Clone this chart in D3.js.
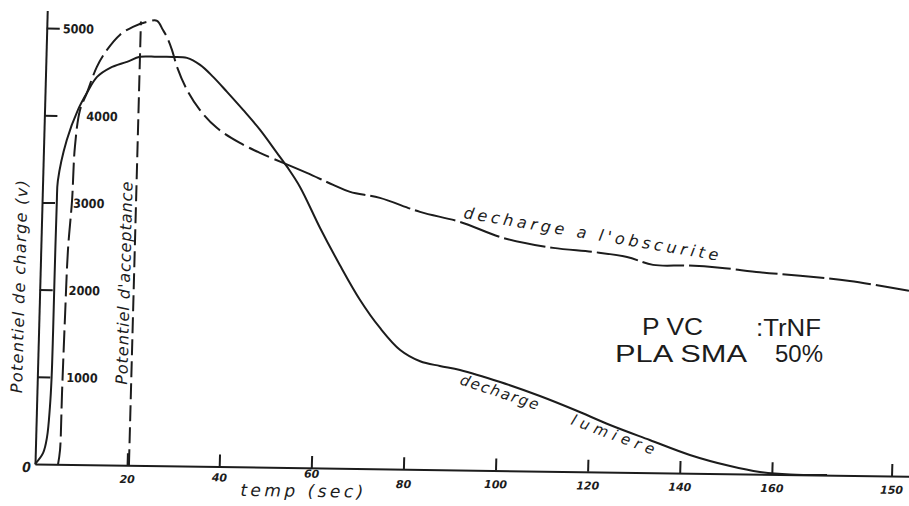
<!DOCTYPE html>
<html><head><meta charset="utf-8">
<script src="https://cdn.jsdelivr.net/npm/d3@7"></script>
<style>
html,body{margin:0;padding:0;background:#fff;}
svg{display:block;}
</style></head><body>
<svg id="chart" width="909" height="506"></svg>
<script>
// ---------- data ----------
// time (s) / potential (V) for "decharge lumiere" (solid curve)
const lumiereTime = [0,1.7,2.45,2.9,3.1,3.15,3.15,3.2,3.3,5.0,7.25,9.1,11.2,14.0,17.6,20.4,24.1,27.6,30.6,33.5,36.4,39.5,43.1,46.9,50.7,53.0,55.9,60.5,65.0,69.6,74.1,78.6,83.0,87.3,91.7,100.5,109.2,116.9,124.6,133.3,142.1,150.9,157.4,164,172];
const lumiereVolt = [0,130,310,650,1000,1500,2100,3000,3250,3720,4066,4263,4448,4554,4625,4685,4687,4689,4680,4602,4467,4297,4093,3867,3606,3446,3219,2752,2331,1933,1615,1366,1240,1189,1147,1015,861,706,540,374,209,88,25,0,0];
// time (s) / potential (V) for "decharge a l'obscurite" (dashed curve)
const obscuriteTime = [5.0,5.35,5.45,5.65,5.9,6.5,6.8,7.7,9.1,11.1,13.2,15.9,18.7,21.7,23.9,25.2,26.1,27.3,28.5,30.8,33.7,37.5,42.6,47.0,52.1,57.3,63.1,66.8,73.3,82.1,90.8,100.3,111.2,119.9,127.3,133.0,140.4,147.5,156.2,165,175.8,188.7];
const obscuriteVolt = [0,165,820,1690,2460,3030,3640,4066,4263,4563,4759,4933,5028,5087,5100,4998,4919,4770,4576,4313,4086,3883,3714,3603,3492,3381,3248,3170,3106,2952,2844,2667,2561,2521,2469,2382,2380,2360,2315,2280,2230,2125];
// "Potentiel d'acceptance" marker
const acceptanceTime = [20.4, 20.4];
const acceptanceVolt = [0, 5090];
// axes
const xTickValues = [20,40,60,80,100,120,140,160,186];
const xTickLabels = ["20","40","60","80","100","120","140","160","150"];
const yTickValues = [0,1000,2000,3000,4000,5000];
const yTickLabels = ["0","1000","2000","3000","4000","5000"];
const xTitle = "temp (sec)";
const yTitle = "Potentiel de charge (v)";
const acceptanceLabel = "Potentiel d'acceptance";
const lumiereLabel = ["decharge", "lumiere"];
const obscuriteLabel = "decharge a l'obscurite";
const noteLines = [["P VC", ":TrNF"], ["PLA SMA", "50%"]];

// ---------- drawing ----------
const INK = "#1c1c1c";
const svg = d3.select("#chart");
svg.append("rect").attr("width", 909).attr("height", 506).attr("fill", "#fff");

// the scan is slightly skewed: apply the same affine to the plot
const sx = 0.027, sy = 0.014, ox = 34, oy = 464;
const g = svg.append("g")
  .attr("transform", `matrix(1,${sy},${-sx},1,${sx*oy},${-sy*ox})`);

const x = d3.scaleLinear().domain([0, 192]).range([35, 35 + 4.605*192]);
const y = d3.scaleLinear().domain([0, 5200]).range([464, 464 - 0.0872*5200]);

// x axis
const xAxis = g.append("g").attr("transform", `translate(0,${y(0)})`)
  .call(d3.axisBottom(x).tickValues(xTickValues).tickSize(-12).tickSizeOuter(0)
        .tickPadding(10).tickFormat((d,i) => xTickLabels[i]));
xAxis.select(".domain").attr("stroke", INK).attr("stroke-width", 2);
xAxis.selectAll(".tick line").attr("stroke", INK).attr("stroke-width", 2);
const xDy = {40: -3, 60: -8, 80: 1};
xAxis.selectAll(".tick text")
  .attr("fill", INK).attr("font-family", "DejaVu Sans").attr("font-style", "italic")
  .attr("font-weight", "bold").attr("font-size", 11)
  .attr("y", d => 10 + (xDy[d] || 0));

// y axis
const yAxis = g.append("g").attr("transform", `translate(${x(0)},0)`)
  .call(d3.axisRight(y).tickValues(yTickValues).tickSize(13).tickSizeOuter(0)
        .tickFormat((d,i) => yTickLabels[i]));
yAxis.select(".domain").attr("stroke", INK).attr("stroke-width", 2);
yAxis.selectAll(".tick line").attr("stroke", INK).attr("stroke-width", 2)
  .attr("display", d => d === 0 ? "none" : null);
const yLabelX = {0: -4, 1000: 29, 2000: 29, 3000: 31, 4000: 42, 5000: 16};
yAxis.selectAll(".tick text")
  .attr("fill", INK).attr("font-family", "DejaVu Sans Condensed, DejaVu Sans")
  .attr("font-weight", "bold").attr("font-size", d => d === 0 ? 14 : 12.5)
  .attr("font-style", d => d === 0 ? "italic" : "normal")
  .attr("text-anchor", d => d === 0 ? "end" : "start")
  .attr("x", d => yLabelX[d])
  .attr("dy", d => d === 0 ? "0.55em" : "0.35em");

// curves
const line = d3.line().x(d => x(d[0])).y(d => y(d[1])).curve(d3.curveCatmullRom.alpha(0.5));
const lumiere = lumiereTime.map((t,i) => [t, lumiereVolt[i]]);
const obscurite = obscuriteTime.map((t,i) => [t, obscuriteVolt[i]]);
const split = obscuriteTime.indexOf(52.1);

g.append("path").attr("d", line(lumiere)).attr("fill", "none")
  .attr("stroke", INK).attr("stroke-width", 2).attr("stroke-linejoin", "round");
g.append("path").attr("d", line(obscurite.slice(0, split + 1))).attr("fill", "none")
  .attr("stroke", INK).attr("stroke-width", 2).attr("stroke-dasharray", "22,6");
g.append("path").attr("d", line(obscurite.slice(split))).attr("fill", "none")
  .attr("stroke", INK).attr("stroke-width", 2).attr("stroke-dasharray", "42,5");

// acceptance marker
g.append("line")
  .attr("x1", x(acceptanceTime[0])).attr("y1", y(acceptanceVolt[0]))
  .attr("x2", x(acceptanceTime[1])).attr("y2", y(acceptanceVolt[1]))
  .attr("stroke", INK).attr("stroke-width", 2).attr("stroke-dasharray", "16,6");

// titles inside the skewed frame
g.append("text").text(yTitle)
  .attr("transform", "translate(20,287) rotate(-90)")
  .attr("text-anchor", "middle").attr("font-family", "DejaVu Sans").attr("font-style", "italic")
  .attr("font-size", 16).attr("fill", INK).attr("textLength", 213).attr("lengthAdjust", "spacing");
g.append("text").text(acceptanceLabel)
  .attr("transform", `translate(${x(acceptanceTime[0]) - 4},282) rotate(-90)`)
  .attr("text-anchor", "middle").attr("font-family", "DejaVu Sans").attr("font-style", "italic")
  .attr("font-size", 16).attr("fill", INK).attr("textLength", 203).attr("lengthAdjust", "spacing");
g.append("text").text(xTitle)
  .attr("x", 241).attr("y", 493)
  .attr("font-family", "DejaVu Sans").attr("font-style", "italic")
  .attr("font-size", 17).attr("fill", INK).attr("textLength", 123).attr("lengthAdjust", "spacing");

// curve labels
svg.append("text").text(obscuriteLabel)
  .attr("transform", "translate(463,218) rotate(9.5)")
  .attr("font-family", "DejaVu Sans").attr("font-style", "italic").attr("font-size", 16)
  .attr("fill", INK).attr("textLength", 258).attr("lengthAdjust", "spacing");
svg.append("text").text(lumiereLabel[0])
  .attr("transform", "translate(459,384) rotate(18.5)")
  .attr("font-family", "DejaVu Sans").attr("font-style", "italic").attr("font-size", 15)
  .attr("fill", INK).attr("textLength", 82).attr("lengthAdjust", "spacing");
svg.append("text").text(lumiereLabel[1])
  .attr("transform", "translate(570,424) rotate(20.5)")
  .attr("font-family", "DejaVu Sans").attr("font-style", "italic").attr("font-size", 15)
  .attr("fill", INK).attr("textLength", 88).attr("lengthAdjust", "spacing");

// note block
const note = [
  {t: noteLines[0][0], x: 642, y: 335, w: 61},
  {t: noteLines[0][1], x: 756, y: 336, w: 65},
  {t: noteLines[1][0], x: 615, y: 362, w: 132},
  {t: noteLines[1][1], x: 775, y: 362, w: 48}
];
svg.selectAll("text.note").data(note).join("text").attr("class", "note")
  .text(d => d.t).attr("x", d => d.x).attr("y", d => d.y)
  .attr("font-family", "Liberation Sans").attr("font-size", 23).attr("fill", INK)
  .attr("textLength", d => d.w).attr("lengthAdjust", "spacingAndGlyphs");
</script>
</body></html>
